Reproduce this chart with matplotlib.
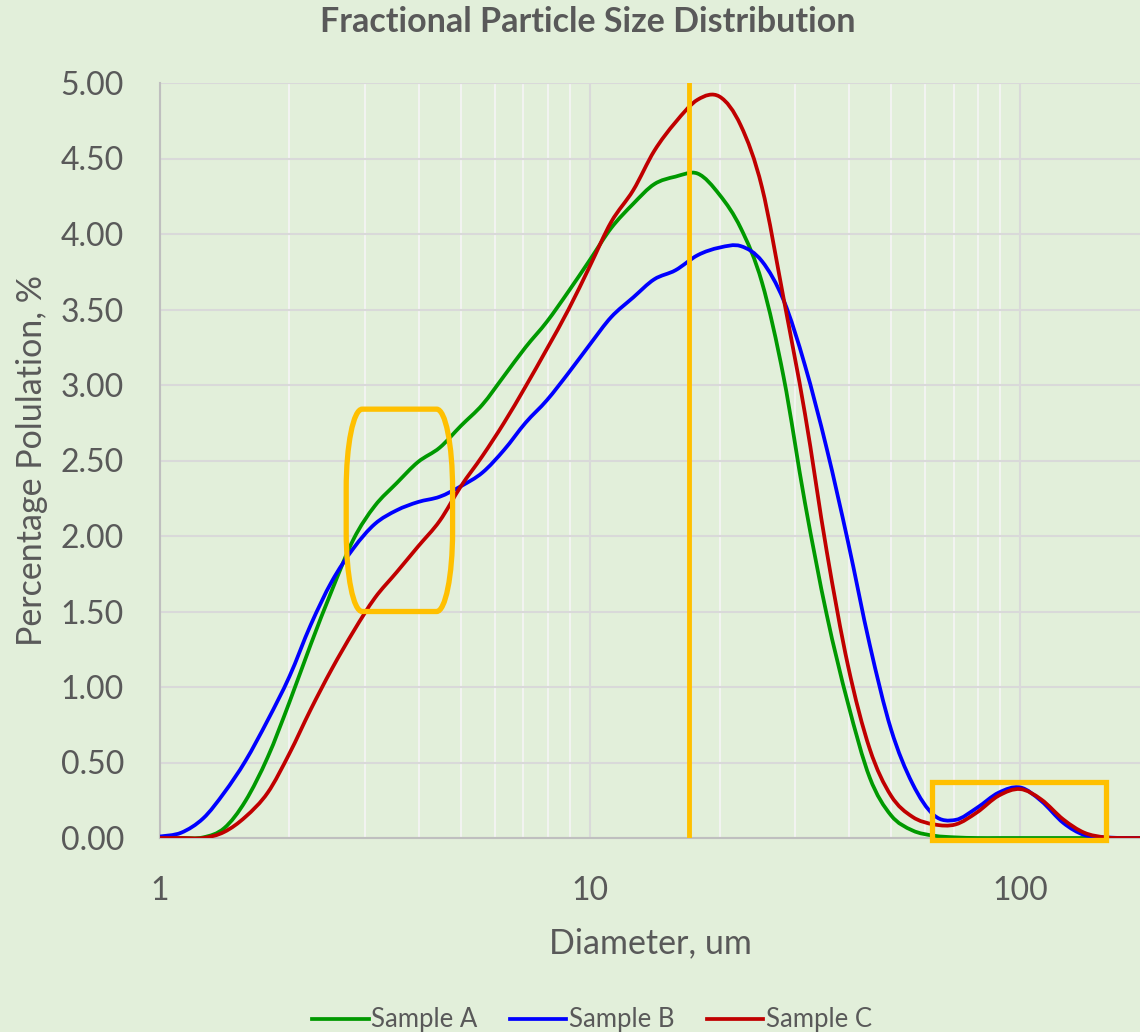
import numpy as np
import matplotlib
matplotlib.use('Agg')
import matplotlib.pyplot as plt
from matplotlib.path import Path
from matplotlib.patches import PathPatch, Rectangle
from matplotlib.lines import Line2D
from matplotlib.ticker import FixedLocator, NullFormatter

plt.rcParams['font.family'] = ['Lato', 'DejaVu Sans']

# particle diameter, um
diameter = [1.00, 1.12, 1.26, 1.41, 1.58, 1.78, 2.00, 2.24, 2.51, 2.82,
            3.16, 3.55, 3.98, 4.47, 5.01, 5.62, 6.31, 7.08, 7.94, 8.91,
            10.0, 11.2, 12.6, 14.1, 15.8, 17.8, 20.0, 22.4, 25.1, 28.2,
            31.6, 35.5, 39.8, 44.7, 50.1, 56.2, 63.1, 70.8, 79.4, 89.1,
            100, 112, 126, 141, 158, 178, 190]

sample_a = [0, 0, 0.004, 0.065, 0.245, 0.535, 0.90, 1.28, 1.64, 1.98,
            2.20, 2.35, 2.49, 2.585, 2.73, 2.87, 3.06, 3.25, 3.42, 3.62,
            3.83, 4.04, 4.20, 4.33, 4.38, 4.40, 4.26, 4.04, 3.68, 3.05,
            2.22, 1.48, 0.89, 0.40, 0.15, 0.05, 0.015, 0.004, 0, 0,
            0, 0, 0, 0, 0, 0, 0]

sample_b = [0.01, 0.035, 0.13, 0.30, 0.51, 0.78, 1.07, 1.41, 1.70, 1.92,
            2.08, 2.17, 2.225, 2.26, 2.33, 2.42, 2.57, 2.75, 2.90, 3.08,
            3.27, 3.45, 3.58, 3.70, 3.76, 3.86, 3.91, 3.92, 3.82, 3.56,
            3.13, 2.58, 1.96, 1.28, 0.72, 0.36, 0.15, 0.12, 0.20, 0.30,
            0.335, 0.245, 0.10, 0.02, 0.004, 0, 0]

sample_c = [0, 0, 0, 0.04, 0.14, 0.30, 0.56, 0.85, 1.12, 1.37,
            1.59, 1.76, 1.93, 2.10, 2.33, 2.53, 2.75, 2.99, 3.24, 3.50,
            3.79, 4.08, 4.29, 4.55, 4.74, 4.89, 4.91, 4.72, 4.31, 3.57,
            2.81, 1.90, 1.14, 0.59, 0.28, 0.14, 0.09, 0.09, 0.17, 0.28,
            0.324, 0.255, 0.123, 0.035, 0.004, 0, 0]

series_names = ['Sample A', 'Sample B', 'Sample C']
series_colors = ['#009900', '#0000ff', '#c00000']
y_ticks = [0.0, 0.5, 1.0, 1.5, 2.0, 2.5, 3.0, 3.5, 4.0, 4.5, 5.0]
x_ticks = [1, 10, 100]
x_max = 190

# highlighted regions
marker_line_x = 17.0
left_box = (2.71, 4.79, 1.50, 2.84)
right_box = (62.5, 158.0, -0.013, 0.37)

bg = '#e2efda'
text_col = '#595959'
orange = '#ffc000'


def smooth_line(x, y):
    # smoothed line like the spreadsheet draws it (bezier through the points, log x)
    lx = np.log10(x)
    y = np.asarray(y, dtype=float)
    n = len(x)
    verts = [(x[0], y[0])]
    codes = [Path.MOVETO]
    for i in range(n - 1):
        a = max(i - 1, 0)
        b = min(i + 2, n - 1)
        c1 = (lx[i] + (lx[i + 1] - lx[a]) / 6, y[i] + (y[i + 1] - y[a]) / 6)
        c2 = (lx[i + 1] - (lx[b] - lx[i]) / 6, y[i + 1] - (y[b] - y[i]) / 6)
        verts += [(10 ** c1[0], c1[1]), (10 ** c2[0], c2[1]), (x[i + 1], y[i + 1])]
        codes += [Path.CURVE4] * 3
    return Path(verts, codes)


fig = plt.figure(figsize=(11.4, 10.32), dpi=100)
fig.patch.set_facecolor(bg)
ax = fig.add_axes([160 / 1140, 1 - 838 / 1032, 980 / 1140, 755 / 1032])
ax.set_facecolor(bg)

for vals, col in zip([sample_a, sample_b, sample_c], series_colors):
    ax.add_patch(PathPatch(smooth_line(diameter, vals), fill=False, ec=col,
                           lw=2.7, capstyle='round', joinstyle='round', zorder=3))

ax.set_xscale('log')
ax.set_xlim(1, x_max)
ax.set_ylim(0, 5)
ax.xaxis.set_major_locator(FixedLocator(x_ticks))
ax.set_xticklabels([str(t) for t in x_ticks])
minor = [m * 10 ** e for e in range(0, 3) for m in range(2, 10)]
ax.xaxis.set_minor_locator(FixedLocator(minor))
ax.xaxis.set_minor_formatter(NullFormatter())
ax.set_yticks(y_ticks)
ax.set_yticklabels(['%.2f' % t for t in y_ticks])

ax.grid(which='minor', axis='x', color='#f4f4f4', lw=1.3, zorder=0)
ax.grid(which='major', axis='x', color='#d9d9d9', lw=1.5, zorder=0)
ax.grid(which='major', axis='y', color='#d9d9d9', lw=1.5, zorder=0)
ax.set_axisbelow(True)

ax.tick_params(which='both', length=0, labelsize=23, labelcolor=text_col)
ax.tick_params(axis='y', pad=26)
ax.tick_params(axis='x', pad=27)
for s in ['top', 'right']:
    ax.spines[s].set_visible(False)
for s in ['left', 'bottom']:
    ax.spines[s].set_color('#bfbfbf')
    ax.spines[s].set_linewidth(1.5)

ax.set_xlabel('Diameter, um', fontsize=24.5, color=text_col, labelpad=16)
ax.set_ylabel('Percentage Polulation, %', fontsize=24.5, color=text_col, labelpad=9)
fig.text(588 / 1140, 1 - 22 / 1032, 'Fractional Particle Size Distribution',
         ha='center', va='center', fontsize=24.5, fontweight='bold', color=text_col)

# orange markers
ax.axvline(marker_line_x, color=orange, lw=3.5, zorder=4)
x0, x1, y0, y1 = right_box
ax.add_patch(Rectangle((x0, y0), x1 - x0, y1 - y0, fill=False, ec=orange,
                       lw=3.8, clip_on=False, zorder=5))

# rounded box, drawn in axes fractions so the corners stay elliptical
bx0, bx1, by0, by1 = left_box
fx0 = np.log10(bx0) / np.log10(x_max)
fx1 = np.log10(bx1) / np.log10(x_max)
fy0 = by0 / 5
fy1 = by1 / 5
rx, ry = 16 / 980, 80 / 755
k = 0.5523
verts = [
    (fx0 + rx, fy1), (fx1 - rx, fy1),
    (fx1 - rx + k * rx, fy1), (fx1, fy1 - ry + k * ry), (fx1, fy1 - ry),
    (fx1, fy0 + ry),
    (fx1, fy0 + ry - k * ry), (fx1 - rx + k * rx, fy0), (fx1 - rx, fy0),
    (fx0 + rx, fy0),
    (fx0 + rx - k * rx, fy0), (fx0, fy0 + ry - k * ry), (fx0, fy0 + ry),
    (fx0, fy1 - ry),
    (fx0, fy1 - ry + k * ry), (fx0 + rx - k * rx, fy1), (fx0 + rx, fy1),
    (fx0 + rx, fy1),
]
codes = [Path.MOVETO, Path.LINETO,
         Path.CURVE4, Path.CURVE4, Path.CURVE4,
         Path.LINETO,
         Path.CURVE4, Path.CURVE4, Path.CURVE4,
         Path.LINETO,
         Path.CURVE4, Path.CURVE4, Path.CURVE4,
         Path.LINETO,
         Path.CURVE4, Path.CURVE4, Path.CURVE4,
         Path.CLOSEPOLY]
ax.add_patch(PathPatch(Path(verts, codes), transform=ax.transAxes, fill=False,
                       ec=orange, lw=3.8, zorder=5))

handles = [Line2D([], [], color=c, lw=2.7) for c in series_colors]
fig.legend(handles, series_names, loc='center',
           bbox_to_anchor=(592 / 1140, 1 - 1020 / 1032), ncol=3,
           frameon=False, fontsize=18.5, handlelength=2.2, handletextpad=0.1,
           columnspacing=1.25, labelcolor=text_col)

fig.savefig('out.png', dpi=100, facecolor=bg)
